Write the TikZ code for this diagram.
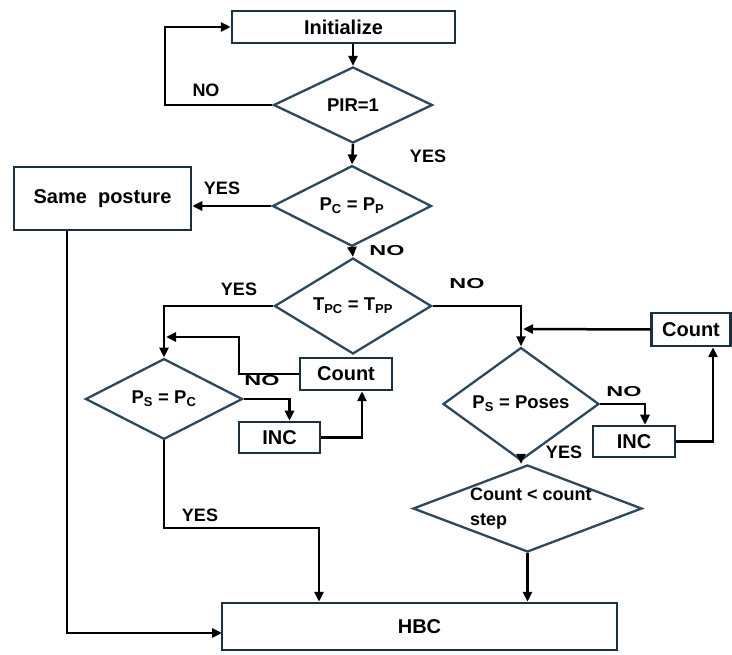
\documentclass[tikz,border=0pt]{standalone}
\usepackage{fontspec}
\setmainfont{Liberation Sans}
\usetikzlibrary{shapes.geometric,arrows.meta}
\definecolor{boxc}{RGB}{28,48,64}
\definecolor{diac}{RGB}{44,72,90}
\tikzset{
  box/.style={draw=boxc,line width=2.5pt,rectangle,inner sep=0pt,font=\bfseries\fontsize{20}{22}\selectfont},
  dia/.style={draw=diac,line width=2.3pt,diamond,inner sep=0pt,font=\bfseries\fontsize{18.5}{20}\selectfont},
  arr/.style={line width=2.5pt,-{Triangle[length=10pt,width=9pt]}},
  lab/.style={font=\bfseries\fontsize{18}{20}\selectfont,inner sep=0pt},
}
\newcommand{\flatno}{\scalebox{1.3}[0.8]{NO}}
\begin{document}
\begin{tikzpicture}[x=1pt,y=-1pt]
\useasboundingbox (0,0) rectangle (732,655);
% nodes
\node[box,minimum width=223pt,minimum height=32pt] (init) at (343.5,27) {Initialize};
\node[dia,minimum width=159pt,minimum height=76pt] (pir) at (353,105) {PIR=1};
\node[dia,minimum width=159pt,minimum height=78pt] (pcpp) at (352,206) {P\textsubscript{C} = P\textsubscript{P}};
\node[box,minimum width=177pt,minimum height=63pt] (same) at (102.5,198.5) {Same\ \ posture};
\node[dia,minimum width=157pt,minimum height=78pt] (tpc) at (353,306) {T\textsubscript{PC} = T\textsubscript{PP}};
\node[dia,minimum width=157pt,minimum height=78pt] (psc) at (164,399) {P\textsubscript{S} = P\textsubscript{C}};
\node[box,minimum width=92pt,minimum height=32pt] (countL) at (346,374) {Count};
\node[box,minimum width=81pt,minimum height=31pt] (incL) at (279.5,437.5) {INC};
\node[dia,minimum width=156pt,minimum height=78pt] (poses) at (521,404) {P\textsubscript{S} = Poses};
\node[box,minimum width=79pt,minimum height=33pt] (countR) at (691,329.5) {Count};
\node[box,minimum width=82pt,minimum height=31pt] (incR) at (634,441.5) {INC};
\node[dia,minimum width=229pt,minimum height=87pt] (cnt) at (527.5,508.5) {};
\node[anchor=west,align=left,inner sep=0pt,font=\bfseries\fontsize{18}{25}\selectfont] (cntt) at (470,509) {Count < count\\step};
\node[box,minimum width=395pt,minimum height=47pt] (hbc) at (419.5,626.5) {HBC};
% free-end coordinates
\coordinate (jL) at (166,337);
\coordinate (jR) at (523,329);
\coordinate (hbcin) at (222,633);
\coordinate (bendL) at (319,528);
% connectors
\draw[arr] (pir.north |- init.south) -- (pir.north);
\draw[arr] (pir.west) -- (165,105) |- (init.west);
\draw[arr] (pir.south) -- (pcpp.north);
\draw[arr] (pcpp.west) -- (pcpp.west -| same.east);
\draw[arr] (pcpp.south) -- (tpc.north);
\draw[arr] (tpc.west) -| (psc.north);
\draw[arr] (tpc.east) -| (poses.north);
\draw[arr] (psc.east) -| ([xshift=10pt]incL.north);
\draw[arr] (incL.east) -| ([xshift=16pt]countL.south);
\draw[arr] (countL.west) -| (239,337) -- (jL);
\draw[arr] (psc.south) |- (bendL) -- (bendL |- hbc.north);
\draw[arr] (same.south -| 67,0) -- (67,633) -- (hbcin);
\draw[arr] (poses.south) -- (poses.south |- cnt.north);
\draw[arr] (poses.east) -| ([xshift=11pt]incR.north);
\draw[arr] (incR.east) -| ([xshift=22pt]countR.south);
\draw[arr] (countR.west) -- (jR);
\draw[arr] (cnt.south) -- (hbc.north -| cnt.south);
% labels
\node[lab] (l1) at (206,90) {NO};
\node[lab] (l2) at (428,156) {YES};
\node[lab] (l3) at (222,188) {YES};
\node[lab] (l4) at (387,251) {\flatno};
\node[lab] (l5) at (239,289) {YES};
\node[lab] (l6) at (467,284) {\flatno};
\node[lab] (l7) at (262,381) {\flatno};
\node[lab] (l8) at (624,392) {\flatno};
\node[lab] (l9) at (564,452) {YES};
\node[lab] (l10) at (200,515) {YES};
\end{tikzpicture}
\end{document}
